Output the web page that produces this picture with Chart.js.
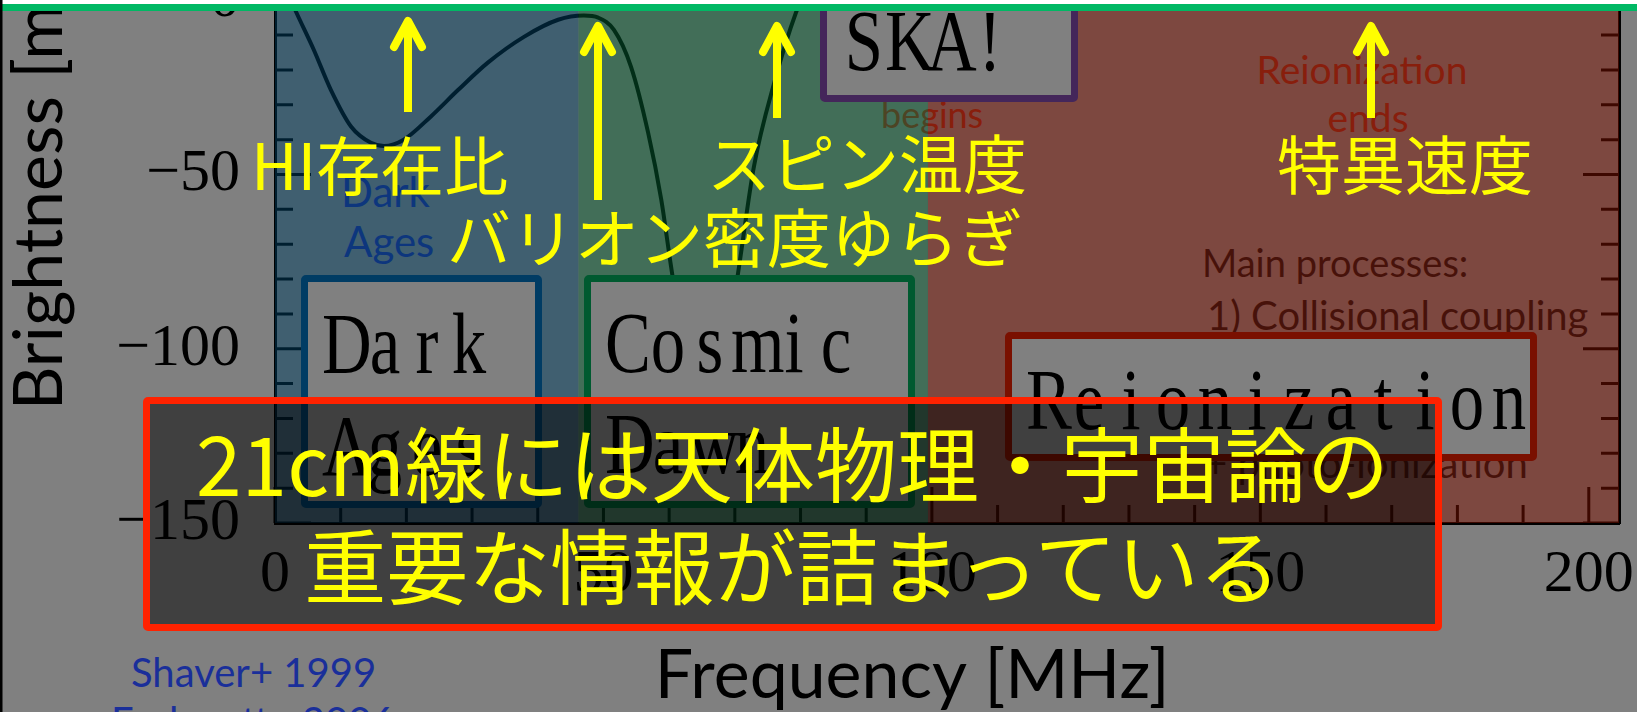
<!DOCTYPE html>
<html>
<head>
<meta charset="utf-8">
<script src="https://cdn.jsdelivr.net/npm/chart.js@4"></script>
<style>
html, body { margin: 0; padding: 0; width: 1637px; height: 712px; overflow: hidden; background: #808080; }
#stage { position: relative; width: 1637px; height: 712px; overflow: hidden; }
#plot { position: absolute; left: 0; top: -200px; z-index: 2; }
.under { position: absolute; z-index: 1; font-family: Lato; white-space: nowrap; line-height: 1; }
.box { position: absolute; z-index: 3; box-sizing: border-box; background: #808080; border: 7px solid; border-radius: 5px; }
.mono { position: absolute; z-index: 4; font-family: "Liberation Serif"; font-size: 86px; color: #000; white-space: nowrap; line-height: 1; transform: scaleX(0.8); transform-origin: 0 0; }
.mono span { display: inline-block; width: 52.5px; text-align: center; }
.jp { position: absolute; z-index: 8; font-family: "Noto Sans CJK JP"; color: #ffff00; white-space: nowrap; line-height: 1; }
#note { position: absolute; z-index: 7; left: 143px; top: 397px; width: 1299px; height: 234px; box-sizing: border-box; border: 7px solid #ff2200; border-radius: 5px; background: rgba(0, 0, 0, 0.5); }
#marks { position: absolute; left: 0; top: 0; z-index: 9; }
</style>
</head>
<body>
<div id="stage">
  <!-- texts of the original figure, under the coloured era overlays -->
  <div class="under" style="left:341px;top:170px;font-size:42px;color:#1a2f9a;">Dark</div>
  <div class="under" style="left:344px;top:220px;font-size:42px;color:#1a2f9a;">Ages</div>
  <div class="under" style="left:881px;top:96px;font-size:36px;color:#962c18;">begins</div>
  <div class="under" style="left:1162px;width:400px;text-align:center;top:50px;font-size:39px;color:#962c18;">Reionization</div>
  <div class="under" style="left:1168px;width:400px;text-align:center;top:98px;font-size:39px;color:#962c18;">ends</div>
  <div class="under" style="left:1202px;top:243px;font-size:38px;color:#141414;">Main processes:</div>
  <div class="under" style="left:1207px;top:295px;font-size:40px;color:#141414;">1) Collisional coupling</div>
  <div class="under" style="left:1204px;top:443px;font-size:40px;color:#141414;">+ photo-ionization</div>
  <div class="under" style="left:131px;top:652px;font-size:40px;color:#1a2f9a;">Shaver+ 1999</div>
  <div class="under" style="left:111px;top:701px;font-size:40px;color:#1a2f9a;">Furlanetto 2006</div>

  <canvas id="plot" width="1637" height="912"></canvas>

  <div class="box" style="left:301px;top:275px;width:241px;height:233px;border-color:#003c64;"></div>
  <div class="box" style="left:584px;top:275px;width:331px;height:233px;border-color:#005a30;"></div>
  <div class="box" style="left:820px;top:-20px;width:258px;height:122px;border-color:#44265a;"></div>
  <div class="box" style="left:1005px;top:332px;width:532px;height:129px;border-color:#7a1000;"></div>

  <div class="mono" style="left:322px;top:301px;">Dark</div>
  <div class="mono" style="left:322px;top:403px;">Ages</div>
  <div class="mono" style="left:605px;top:300px;">Cosmic</div>
  <div class="mono" style="left:605px;top:401px;">Dawn</div>
  <div class="mono" style="left:843px;top:-2px;">SKA!</div>
  <div class="mono" style="left:1026px;top:357px;">Reionization</div>

  <div id="note"></div>

  <div class="jp" style="left:251px;top:130px;font-size:64px;">HI存在比</div>
  <div class="jp" style="left:447px;top:202px;font-size:64px;">バリオン密度ゆらぎ</div>
  <div class="jp" style="left:707px;top:128px;font-size:64px;">スピン温度</div>
  <div class="jp" style="left:1277px;top:129px;font-size:64px;">特異速度</div>
  <div class="jp" style="left:143px;width:1299px;text-align:center;top:420px;font-size:82px;">21cm線には天体物理・宇宙論の</div>
  <div class="jp" style="left:143px;width:1299px;text-align:center;top:522px;font-size:82px;">重要な情報が詰まっている</div>

  <svg id="marks" width="1637" height="712"></svg>
</div>

<script>
// 21cm global signal
const freqMHz = [0, 1.5, 3.2, 5.9, 8.5, 11.6, 14.6, 16.6, 19.6, 23.7, 27.9, 32.4, 37.9, 43.1, 47.0, 49.2,
                 51.6, 54.2, 56.8, 58.8, 60.3, 62.5, 65.4, 68.3, 70.5, 72.9, 76.0, 79.3, 83, 90, 100, 115,
                 135, 160, 185, 204.6];
const brightnessMK = [12, 4, -3.3, -14.2, -25.7, -36.3, -40.9, -41.8, -40.0, -33.4, -25.7, -17.9, -10.5, -5.6, -4.4, -5.0,
                      -8.5, -19.1, -38.0, -57.2, -76.5, -102, -125, -104, -78.2, -47.8, -23.7, -3.6, 12, 25, 30, 22,
                      12, 5, 2, 1];

// axes
const xTickValues = [0, 50, 100, 150, 200];
const yTickValues = [-150, -100, -50, 0, 50];

// cosmic eras shaded on the plot
const eraNames = ['Dark Ages', 'Cosmic Dawn', 'Reionization'];
const eraStartMHz = [0, 46.2, 99.4];
const eraEndMHz = [46.2, 99.4, 204.6];
const eraColors = ['rgba(0, 62, 96, 0.5)', 'rgba(4, 92, 48, 0.5)', 'rgba(122, 16, 0, 0.5)'];

const X_MAX = 204.6;
const Y_MIN = -150, Y_MAX = 50;

// inward minor/major tick marks on three sides, then the era overlays
const frameTicks = {
    id: 'frameTicks',
    beforeDatasetsDraw(chart) {
        const { ctx, chartArea: a, scales: { x, y } } = chart;
        ctx.save();
        ctx.strokeStyle = '#000';
        ctx.lineWidth = 3;
        ctx.beginPath();
        for (let v = Y_MIN; v <= Y_MAX; v += 10) {
            const py = y.getPixelForValue(v);
            const len = v % 50 === 0 ? 36 : 18;
            ctx.moveTo(a.left, py); ctx.lineTo(a.left + len, py);
            ctx.moveTo(a.right, py); ctx.lineTo(a.right - len, py);
        }
        for (let f = 0; f <= 200; f += 10) {
            const px = x.getPixelForValue(f);
            const len = f % 50 === 0 ? 36 : 18;
            ctx.moveTo(px, a.bottom); ctx.lineTo(px, a.bottom - len);
        }
        ctx.stroke();
        ctx.restore();
    },
    afterDatasetsDraw(chart) {
        const { ctx, chartArea: a, scales: { x } } = chart;
        ctx.save();
        eraNames.forEach((name, i) => {
            const x0 = x.getPixelForValue(eraStartMHz[i]);
            const x1 = x.getPixelForValue(eraEndMHz[i]);
            ctx.fillStyle = eraColors[i];
            ctx.fillRect(x0, a.top, x1 - x0, a.bottom - a.top);
        });
        ctx.restore();
    }
};

const tickFont = { family: '"Liberation Serif"', size: 60 };
const titleFont = { family: 'Lato', size: 68, lineHeight: 1 };

new Chart(document.getElementById('plot'), {
    type: 'scatter',
    data: {
        datasets: [{
            label: 'Brightness',
            data: freqMHz.map((f, i) => ({ x: f, y: brightnessMK[i] })),
            showLine: true,
            borderColor: '#000',
            borderWidth: 4,
            pointRadius: 0,
            cubicInterpolationMode: 'monotone',
            fill: false
        }]
    },
    options: {
        responsive: false,
        animation: false,
        events: [],
        layout: { padding: { top: 26, left: 0, right: 18, bottom: 0 } },
        plugins: { legend: { display: false }, tooltip: { enabled: false } },
        scales: {
            x: {
                type: 'linear',
                position: 'bottom',
                min: 0,
                max: X_MAX,
                afterBuildTicks: s => { s.ticks = xTickValues.map(v => ({ value: v })); },
                afterFit: s => { s.height = 189; s.paddingLeft = 0; s.paddingRight = 0; },
                grid: { display: false, drawTicks: false },
                border: { display: true, color: '#000', width: 3 },
                ticks: {
                    autoSkip: false,
                    maxRotation: 0,
                    padding: 16,
                    color: '#000',
                    font: tickFont,
                    callback: v => String(v)
                },
                title: {
                    display: true,
                    text: 'Frequency [MHz]' + '\u00a0'.repeat(4),
                    color: '#000',
                    font: titleFont,
                    padding: { top: 0, bottom: 2 }
                }
            },
            y: {
                type: 'linear',
                position: 'left',
                min: Y_MIN,
                max: Y_MAX,
                afterBuildTicks: s => { s.ticks = yTickValues.map(v => ({ value: v })); },
                afterFit: s => { s.width = 275; s.paddingTop = 0; s.paddingBottom = 0; },
                grid: { display: false, drawTicks: false },
                border: { display: true, color: '#000', width: 3 },
                ticks: {
                    padding: 35,
                    color: '#000',
                    font: tickFont,
                    callback: v => v < 0 ? '\u2212' + (-v) : String(v)
                },
                title: {
                    display: true,
                    text: 'Brightness [mK]',
                    color: '#000',
                    font: titleFont,
                    padding: { top: 6, bottom: 0 }
                }
            },
            y2: {
                type: 'linear',
                position: 'right',
                min: Y_MIN,
                max: Y_MAX,
                afterFit: s => { s.width = 0; s.paddingTop = 0; s.paddingBottom = 0; },
                grid: { display: false, drawTicks: false },
                border: { display: true, color: '#000', width: 3 },
                ticks: { display: false }
            }
        }
    },
    plugins: [frameTicks]
});

// box labels: serif glyphs set in fixed-width cells
document.querySelectorAll('.mono').forEach(el => {
    const txt = el.textContent;
    el.innerHTML = '';
    for (const ch of txt) {
        const s = document.createElement('span');
        s.textContent = ch;
        el.appendChild(s);
    }
});

// yellow arrows, top rule and left edge of the slide
const arrows = [
    { x: 408, tip: 21, end: 112 },
    { x: 598, tip: 26, end: 200 },
    { x: 777, tip: 26, end: 118 },
    { x: 1371, tip: 26, end: 118 }
];
const svg = document.getElementById('marks');
let marks = '<rect x="0" y="0" width="1637" height="4" fill="#ffffff"/>' +
            '<rect x="0" y="4" width="1637" height="7" fill="#00b864"/>' +
            '<rect x="0" y="0" width="2.5" height="712" fill="#000"/>';
arrows.forEach(a => {
    marks += `<line x1="${a.x}" y1="${a.tip + 2}" x2="${a.x}" y2="${a.end}" stroke="#ffff00" stroke-width="8"/>`;
    marks += `<polyline points="${a.x - 14},${a.tip + 26} ${a.x},${a.tip} ${a.x + 14},${a.tip + 26}" fill="none" stroke="#ffff00" stroke-width="8" stroke-linecap="round" stroke-linejoin="round"/>`;
});
svg.innerHTML = marks;
</script>
</body>
</html>
